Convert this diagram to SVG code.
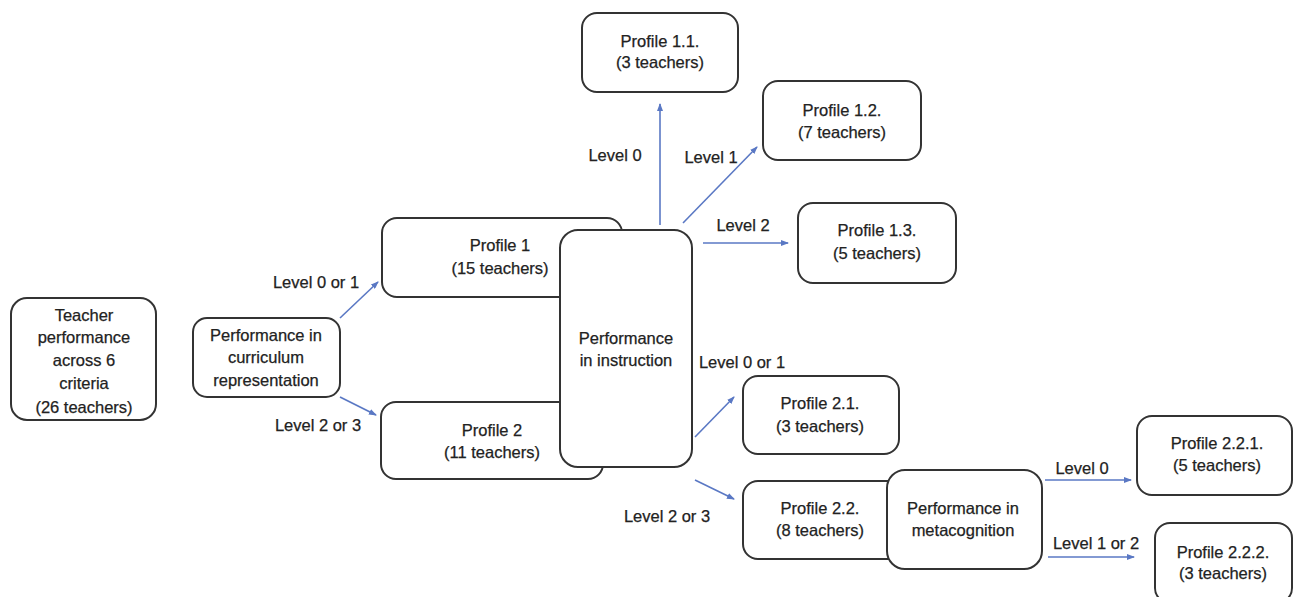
<svg xmlns="http://www.w3.org/2000/svg" width="1294" height="597" viewBox="0 0 1294 597">
<style>
.box{fill:#fff;stroke:#333;stroke-width:2}
text{font-family:"Liberation Sans",Arial,sans-serif;font-size:16.5px;fill:#222;stroke:#222;stroke-width:0.25;text-anchor:middle}
.con{stroke:#5a78c4;stroke-width:1.6;fill:none;marker-end:url(#ah)}
</style>
<defs>
<marker id="ah" markerUnits="userSpaceOnUse" markerWidth="8" markerHeight="6" refX="7" refY="3" orient="auto">
<path d="M0,0 L8,3 L0,6 z" fill="#5a78c4"/>
</marker>
</defs>
<rect width="1294" height="597" fill="#fff"/>

<g id="connectors">
<line class="con" x1="340" y1="318" x2="378" y2="282"/>
<line class="con" x1="340" y1="397" x2="376" y2="415"/>
<line class="con" x1="660" y1="225" x2="660" y2="104"/>
<line class="con" x1="683" y1="223" x2="757" y2="147"/>
<line class="con" x1="703" y1="243" x2="788" y2="243"/>
<line class="con" x1="695" y1="437" x2="734" y2="397"/>
<line class="con" x1="695" y1="480" x2="734" y2="499"/>
<line class="con" x1="1045" y1="480" x2="1131" y2="480"/>
<line class="con" x1="1048" y1="557" x2="1134" y2="557"/>
</g>

<g id="labels">
<text x="316" y="288">Level 0 or 1</text>
<text x="318" y="431">Level 2 or 3</text>
<text x="615" y="161">Level 0</text>
<text x="711" y="163">Level 1</text>
<text x="743" y="231">Level 2</text>
<text x="742" y="368">Level 0 or 1</text>
<text x="667" y="522">Level 2 or 3</text>
<text x="1082" y="474">Level 0</text>
<text x="1096" y="549">Level 1 or 2</text>
</g>

<g id="teacher">
<rect class="box" x="11" y="298" width="145" height="122" rx="16"/>
<text x="84" y="321">Teacher</text>
<text x="84" y="343">performance</text>
<text x="84" y="366">across 6</text>
<text x="84" y="389">criteria</text>
<text x="84" y="413">(26 teachers)</text>
</g>

<g id="curriculum">
<rect class="box" x="193" y="318" width="147" height="79" rx="14"/>
<text x="266" y="341">Performance in</text>
<text x="266" y="363">curriculum</text>
<text x="266" y="386">representation</text>
</g>

<g id="profile1">
<rect class="box" x="382" y="218" width="240" height="79" rx="15"/>
<text x="500" y="251">Profile 1</text>
<text x="500" y="274">(15 teachers)</text>
</g>

<g id="profile2">
<rect class="box" x="381" y="402" width="222" height="77" rx="15"/>
<text x="492" y="436">Profile 2</text>
<text x="492" y="458">(11 teachers)</text>
</g>

<g id="instruction">
<rect class="box" x="560" y="230" width="132" height="237" rx="18"/>
<text x="626" y="344">Performance</text>
<text x="626" y="366">in instruction</text>
</g>

<g id="profile11">
<rect class="box" x="582" y="13" width="156" height="79" rx="15"/>
<text x="660" y="47">Profile 1.1.</text>
<text x="660" y="68">(3 teachers)</text>
</g>

<g id="profile12">
<rect class="box" x="763" y="81" width="158" height="79" rx="15"/>
<text x="842" y="116">Profile 1.2.</text>
<text x="842" y="138">(7 teachers)</text>
</g>

<g id="profile13">
<rect class="box" x="798" y="203" width="158" height="80" rx="15"/>
<text x="877" y="236">Profile 1.3.</text>
<text x="877" y="259">(5 teachers)</text>
</g>

<g id="profile21">
<rect class="box" x="743" y="376" width="156" height="78" rx="15"/>
<text x="820" y="409">Profile 2.1.</text>
<text x="820" y="432">(3 teachers)</text>
</g>

<g id="profile22">
<rect class="box" x="743" y="481" width="160" height="78" rx="15"/>
<text x="820" y="514">Profile 2.2.</text>
<text x="820" y="536">(8 teachers)</text>
</g>

<g id="metacognition">
<rect class="box" x="887" y="470" width="155" height="99" rx="18"/>
<text x="963" y="514">Performance in</text>
<text x="963" y="536">metacognition</text>
</g>

<g id="profile221">
<rect class="box" x="1137" y="416" width="155" height="79" rx="15"/>
<text x="1217" y="449">Profile 2.2.1.</text>
<text x="1217" y="471">(5 teachers)</text>
</g>

<g id="profile222">
<rect class="box" x="1155" y="523" width="137" height="80" rx="15"/>
<text x="1223" y="558">Profile 2.2.2.</text>
<text x="1223" y="579">(3 teachers)</text>
</g>
</svg>
